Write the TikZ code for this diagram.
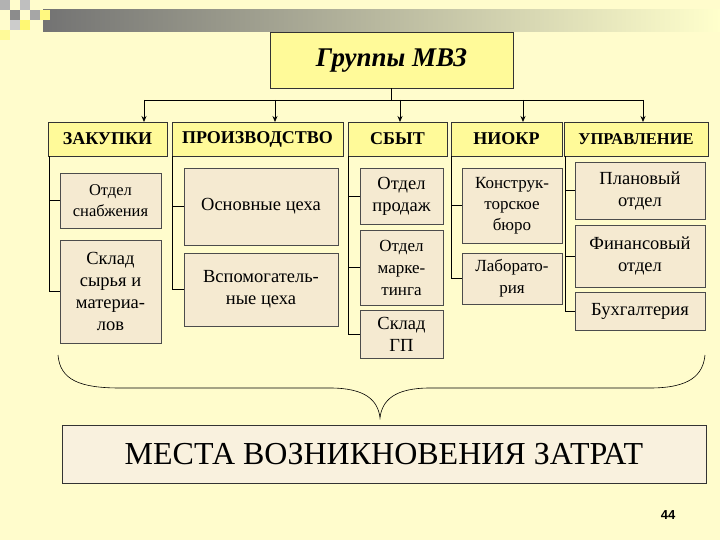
\documentclass[tikz,border=0pt]{standalone}
\usepackage{fontspec}
\setmainfont{Liberation Serif}
\newfontfamily\numfont{Liberation Sans}
\usetikzlibrary{arrows.meta}
\begin{document}
\begin{tikzpicture}[x=1pt,y=-1pt,
  hdr/.style={draw=black!80,fill=yellow!40,font=\bfseries\fontsize{18}{20}\selectfont,inner sep=0},
  sub/.style={draw=black!70,fill=red!12!yellow!8!white!85!brown,font=\fontsize{18.5}{22}\selectfont,align=center,inner sep=0},
  ln/.style={black,line width=0.8pt},
  arr/.style={ln,-{Stealth[length=6pt,width=5pt]}}]
\useasboundingbox (0,0) rectangle (720,540);
\fill[yellow!20] (0,0) rectangle (720,540);
% top decoration
\shade[left color=black!55,right color=yellow!20] (43,10) rectangle (720,32);
\fill[black!45] (10,10) rectangle (20,20);
\fill[black!30] (0,0) rectangle (10,10);
\fill[yellow!55] (20,20) rectangle (30,30);
\fill[black!35] (30,10) rectangle (40,20);
\fill[yellow!50] (40,10) rectangle (50,20);
\fill[black!25] (20,0) rectangle (30,10);
\fill[yellow!40] (0,30) rectangle (10,40);
\fill[black!20] (10,20) rectangle (20,30);
% title
\node[draw=black!80,fill=yellow!40,minimum width=243,minimum height=56,font=\bfseries\itshape\fontsize{27}{30}\selectfont] (t) at (391.5,60) {Группы МВЗ};
% headers
\node[hdr,minimum width=119,minimum height=34] (h1) at (107.5,139) {ЗАКУПКИ};
\node[hdr,minimum width=171,minimum height=34] (h2) at (257.5,139) {ПРОИЗВОДСТВО};
\node[hdr,minimum width=99,minimum height=34] (h3) at (397.5,139) {СБЫТ};
\node[hdr,minimum width=111,minimum height=34] (h4) at (506.5,139) {НИОКР};
\node[hdr,minimum width=144,minimum height=34,font=\bfseries\fontsize{16.5}{20}\selectfont] (h5) at (636,139) {УПРАВЛЕНИЕ};
% connectors
\coordinate (hl) at (144,100); \coordinate (hr) at (643,100);
\draw[ln] (t.south) -- (391.5,100);
\draw[ln] (hl) -- (hr);
\draw[arr] (hl) -- (144,122);
\draw[arr] (275,100) -- (275,122);
\draw[arr] (400,100) -- (400,122);
\draw[arr] (523,100) -- (523,122);
\draw[arr] (hr) -- (643,122);
% children
\node[sub,minimum width=101,minimum height=55,font=\fontsize{16.5}{21}\selectfont] (a1) at (110.5,200.5) {Отдел\\снабжения};
\node[sub,minimum width=101,minimum height=103] (a2) at (110.5,291.5) {Склад\\сырья и\\материа-\\лов};
\node[sub,minimum width=154,minimum height=77] (b1) at (261,206.5) {Основные цеха};
\node[sub,minimum width=154,minimum height=73] (b2) at (261,289.5) {Вспомогатель-\\ные цеха};
\node[sub,minimum width=83,minimum height=56] (c1) at (401.5,196) {Отдел\\продаж};
\node[sub,minimum width=83,minimum height=75,font=\fontsize{17}{22}\selectfont] (c2) at (401.5,267.5) {Отдел\\марке-\\тинга};
\node[sub,minimum width=83,minimum height=48] (c3) at (401.5,334) {Склад\\ГП};
\node[sub,minimum width=100,minimum height=75,font=\fontsize{17}{21}\selectfont] (d1) at (512,205.5) {Конструк-\\торское\\бюро};
\node[sub,minimum width=100,minimum height=51,font=\fontsize{17}{22}\selectfont] (d2) at (512,278.5) {Лаборато-\\рия};
\node[sub,minimum width=130,minimum height=57] (e1) at (640,190.5) {Плановый\\отдел};
\node[sub,minimum width=130,minimum height=62] (e2) at (640,256) {Финансовый\\отдел};
\node[sub,minimum width=130,minimum height=38] (e3) at (640,311) {Бухгалтерия};
% tree lines
\draw[ln] ([xshift=2pt]h1.south west) |- (a2.west);
\draw[ln] ([xshift=2pt]h1.south west |- a1.west) -- (a1.west);
\draw[ln] ([xshift=1pt]h2.south west) |- (b2.west);
\draw[ln] ([xshift=1pt]h2.south west |- b1.west) -- (b1.west);
\draw[ln] ([xshift=1pt]h3.south west) |- (c3.west);
\draw[ln] ([xshift=1pt]h3.south west |- c1.west) -- (c1.west);
\draw[ln] ([xshift=1pt]h3.south west |- c2.west) -- (c2.west);
\draw[ln] ([xshift=1pt]h4.south west) |- (d2.west);
\draw[ln] ([xshift=1pt]h4.south west |- d1.west) -- (d1.west);
\draw[ln] ([xshift=2pt]h5.south west) |- (e3.west);
\draw[ln] ([xshift=2pt]h5.south west |- e1.west) -- (e1.west);
\draw[ln] ([xshift=2pt]h5.south west |- e2.west) -- (e2.west);
% brace
\draw[ln,line width=0.6pt] (58,355) .. controls (60,380) and (80,388) .. (120,388) -- (330,388) .. controls (365,388) and (378,400) .. (380,418)
  .. controls (382,400) and (395,388) .. (430,388) -- (650,388) .. controls (690,388) and (703,375) .. (705,355);
% bottom box
\node[draw=black!80,fill=yellow!30!brown!15!white,minimum width=644,minimum height=58,font=\fontsize{32}{34}\selectfont] (m) at (384,454) {МЕСТА ВОЗНИКНОВЕНИЯ ЗАТРАТ};
\node[font=\numfont\bfseries\fontsize{13}{14}\selectfont] (n) at (668,515) {44};
\end{tikzpicture}
\end{document}
